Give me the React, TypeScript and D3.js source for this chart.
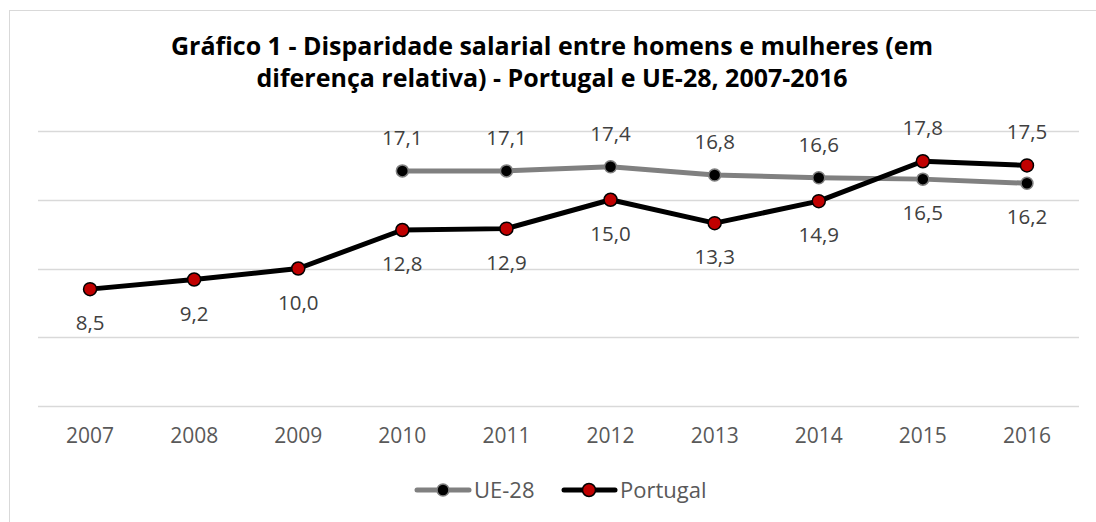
import React from 'react';
import * as d3 from 'd3';

const years = ['2007', '2008', '2009', '2010', '2011', '2012', '2013', '2014', '2015', '2016'];
const ueValues: (number | null)[] = [null, null, null, 17.1, 17.1, 17.4, 16.8, 16.6, 16.5, 16.2];
const ptValues: number[] = [8.5, 9.2, 10.0, 12.8, 12.9, 15.0, 13.3, 14.9, 17.8, 17.5];
// label above (true) or below (false) the point
const ueLabelAbove = [true, true, true, true, true, true, true, true, false, false];
const ptLabelAbove = [false, false, false, false, false, false, false, false, true, true];
const yTicks = [0, 5, 10, 15, 20];

const W = 1096;
const H = 522;
const FONT = '"Open Sans", "Noto Sans", sans-serif';

const fmt = (v: number) => v.toFixed(1).replace('.', ',');

const App: React.FC = () => {
  const x = d3.scaleBand<string>().domain(years).range([38, 1079]);
  const y = d3.scaleLinear().domain([0, 20]).range([406, 131]);
  const cx = (yr: string) => (x(yr) ?? 0) + x.bandwidth() / 2;

  const ueLine = d3.line<number | null>()
    .defined(d => d !== null)
    .x((_, i) => cx(years[i]))
    .y(d => y(d as number));

  const ptLine = d3.line<number>()
    .x((_, i) => cx(years[i]))
    .y(d => y(d));

  return (
    <svg width={W} height={H} style={{ position: 'absolute', left: 0, top: 0, background: '#fff' }} fontFamily={FONT}>
      <rect x={9.5} y={10.5} width={W + 10} height={H + 10} fill="#fff" stroke="#d9d9d9" />

      <text x={552} y={55} textAnchor="middle" fontSize={25} fontWeight="bold" fill="#000">
        Gráfico 1 - Disparidade salarial entre homens e mulheres (em
      </text>
      <text x={552} y={87} textAnchor="middle" fontSize={25} fontWeight="bold" fill="#000">
        diferença relativa) - Portugal e UE-28, 2007-2016
      </text>

      {yTicks.map(t => (
        <line key={t} x1={38} x2={1079} y1={Math.round(y(t)) + 0.5} y2={Math.round(y(t)) + 0.5} stroke="#d9d9d9" strokeWidth={1.5} />
      ))}

      {years.map(yr => (
        <text key={yr} x={cx(yr)} y={443} textAnchor="middle" fontSize={21} fill="#595959">{yr}</text>
      ))}

      <path d={ueLine(ueValues) ?? ''} fill="none" stroke="#808080" strokeWidth={5} strokeLinejoin="round" strokeLinecap="round" />
      {ueValues.map((v, i) => v === null ? null : (
        <circle key={'u' + i} cx={cx(years[i])} cy={y(v)} r={6} fill="#000" stroke="#808080" strokeWidth={1.5} />
      ))}

      <path d={ptLine(ptValues) ?? ''} fill="none" stroke="#000" strokeWidth={5} strokeLinejoin="round" strokeLinecap="round" />
      {ptValues.map((v, i) => (
        <circle key={'p' + i} cx={cx(years[i])} cy={y(v)} r={6.5} fill="#c00000" stroke="#000" strokeWidth={1.5} />
      ))}

      {ueValues.map((v, i) => v === null ? null : (
        <text key={'ul' + i} x={cx(years[i])} y={ueLabelAbove[i] ? y(v) - 26 : y(v) + 41}
          textAnchor="middle" fontSize={20.5} fill="#404040">{fmt(v)}</text>
      ))}
      {ptValues.map((v, i) => (
        <text key={'pl' + i} x={cx(years[i])} y={ptLabelAbove[i] ? y(v) - 26 : y(v) + 41}
          textAnchor="middle" fontSize={20.5} fill="#404040">{fmt(v)}</text>
      ))}

      {/* legend */}
      <g transform="translate(0,490)">
        <line x1={417} x2={469} y1={0} y2={0} stroke="#808080" strokeWidth={5} strokeLinecap="round" />
        <circle cx={443} cy={0} r={6} fill="#000" stroke="#808080" strokeWidth={1.5} />
        <text x={474} y={8} fontSize={22} fill="#595959">UE-28</text>
        <line x1={564} x2={615} y1={0} y2={0} stroke="#000" strokeWidth={5} strokeLinecap="round" />
        <circle cx={589} cy={0} r={6.5} fill="#c00000" stroke="#000" strokeWidth={1.5} />
        <text x={620} y={8} fontSize={22} fill="#595959">Portugal</text>
      </g>
    </svg>
  );
};

export default App;
